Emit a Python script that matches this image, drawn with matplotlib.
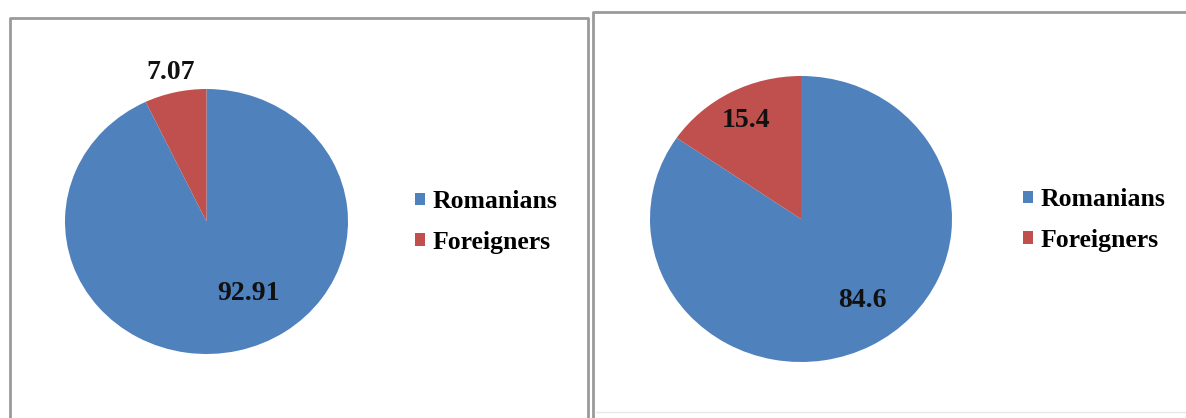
import matplotlib
matplotlib.use("Agg")
import matplotlib.pyplot as plt
from matplotlib.lines import Line2D
import numpy as np

# ---- data ----
categories = ["Romanians", "Foreigners"]
left_values = [92.91, 7.07]
right_values = [84.6, 15.4]
left_labels = ["92.91", "7.07"]
right_labels = ["84.6", "15.4"]

colors = ["#4F81BD", "#C0504D"]
W, H = 1186, 418
fig = plt.figure(figsize=(W / 100, H / 100), dpi=100)
fig.patch.set_facecolor("white")

serif_bold = dict(family=["Liberation Serif", "DejaVu Serif"], weight="bold")


def px_axes(x0, x1, y0, y1):
    return fig.add_axes([x0 / W, (H - y1) / H, (x1 - x0) / W, (y1 - y0) / H])


def draw_pie(ax, values, labels, label_pos):
    wedges, _ = ax.pie(values, colors=colors, startangle=90, counterclock=False,
                       radius=1.0, wedgeprops=dict(linewidth=0))
    ax.set_aspect("auto")
    ax.set_xlim(-1, 1)
    ax.set_ylim(-1, 1)
    ax.axis("off")
    for w, lab, (dist, dang) in zip(wedges, labels, label_pos):
        ang = np.deg2rad((w.theta1 + w.theta2) / 2 + dang)
        ax.text(dist * np.cos(ang), dist * np.sin(ang), lab, ha="center", va="center",
                fontsize=20, color="#111111", clip_on=False, **serif_bold)
    return wedges


# left pie
axL = px_axes(65, 348, 89, 354)
wL = draw_pie(axL, left_values, left_labels, [(0.62, 16), (1.15, 0)])
# right pie
axR = px_axes(650, 952, 76, 362)
wR = draw_pie(axR, right_values, right_labels, [(0.70, 8), (0.78, 0)])

for wedges, x0, yc in [(wL, 415, 222), (wR, 1023, 220)]:
    fig.legend(wedges, categories, loc="center left",
               bbox_to_anchor=(x0 / W, (H - yc) / H), frameon=False,
               borderpad=0, borderaxespad=0, handlelength=0.39, handleheight=0.39,
               handletextpad=0.31, labelspacing=0.68,
               prop=dict(family="Liberation Serif", weight="bold", size=18.5))

# panel borders
bc = "#9a9a9a"
def fline(xs, ys, **kw):
    fig.add_artist(Line2D([x / W for x in xs], [(H - y) / H for y in ys],
                          transform=fig.transFigure, **kw))

fline([10, 10, 588, 588], [425, 18, 18, 425], color=bc, lw=2)
fline([593, 593, 1195], [425, 12, 12], color=bc, lw=2)
fline([596, 1190], [412, 412], color="#e8e8e8", lw=1)

fig.savefig("out.png", dpi=100, facecolor="white")
